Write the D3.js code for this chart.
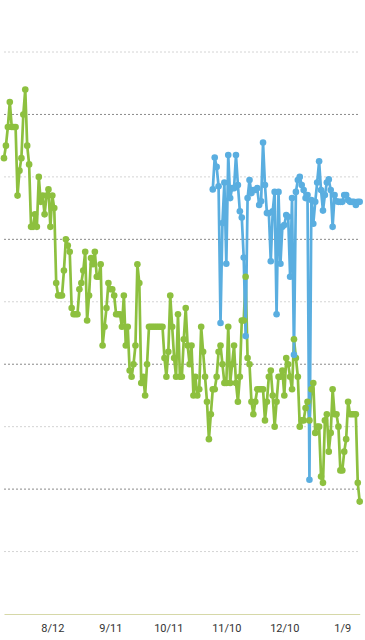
<!DOCTYPE html>
<html><head><meta charset="utf-8">
<script src="https://cdn.jsdelivr.net/npm/d3@7"></script>
<style>html,body{margin:0;padding:0;background:#fff;}svg{display:block}</style>
</head><body><svg id="c" width="365" height="640"></svg>
<script>
// ---- data ----
const greenStart = "2015-07-18";
const greenValues = [
  7.3,7.5,7.8,8.2,7.8,7.8,7.8,6.7,7.1,7.3,
  8.0,8.4,7.5,7.2,6.2,6.2,6.4,6.2,7.0,6.6,
  6.7,6.4,6.7,6.8,6.2,6.7,6.5,5.3,5.1,5.1,
  5.1,5.5,6.0,5.9,5.8,4.9,4.8,4.8,4.8,5.2,
  5.3,5.5,5.8,4.7,5.1,5.7,5.6,5.8,5.4,5.4,
  5.6,4.3,4.6,4.9,5.3,5.2,5.2,5.1,4.8,4.8,
  4.8,4.6,5.1,4.3,4.6,3.9,3.8,4.0,4.3,5.6,
  5.3,3.7,3.8,3.5,4.0,4.6,4.6,4.6,4.6,4.6,
  4.6,4.6,4.6,4.1,3.8,4.2,5.1,4.6,4.1,3.8,
  4.8,3.8,3.8,4.4,4.9,4.3,4.0,4.3,3.5,3.8,
  3.5,3.6,4.6,4.2,3.8,3.4,2.8,3.2,3.6,3.6,
  3.8,4.2,4.3,4.0,3.7,3.7,4.6,3.7,4.0,4.3,
  3.7,3.4,3.8,4.7,4.7,5.4,4.1,4.0,3.4,3.2,
  3.4,3.6,3.6,3.6,3.6,3.1,3.4,3.8,3.9,3.5,
  3.0,3.4,3.8,3.8,3.9,3.5,4.1,4.0,3.8,3.6,
  4.4,4.1,3.8,3.0,3.1,3.1,3.3,3.4,3.1,3.6,
  3.7,2.9,3.0,3.0,2.2,2.1,3.1,3.2,2.6,2.9,
  3.6,3.2,3.2,3.0,2.3,2.3,2.6,2.8,3.4,3.2,
  3.2,3.2,3.2,2.1,1.8
];
const blueStart = "2015-11-03";
const blueValues = [
  6.80,7.31,7.16,6.85,4.66,6.26,6.91,5.61,7.35,6.66,
  6.82,6.82,7.35,6.87,6.45,6.35,5.71,4.45,6.66,6.95,
  6.74,6.79,6.79,6.82,6.55,6.61,7.55,6.87,6.42,6.42,
  5.65,6.45,6.76,4.80,6.76,5.61,6.20,6.23,6.39,6.36,
  5.40,6.66,4.15,6.76,6.95,7.00,6.87,6.79,6.66,6.71,
  2.15,6.63,6.25,6.60,6.91,7.25,6.79,6.46,6.71,6.91,
  6.96,6.79,6.20,6.71,6.61,6.60,6.60,6.60,6.71,6.71,
  6.63,6.60,6.60,6.60,6.55,6.60,6.60
];
const tickDates = ["2015-08-12","2015-09-11","2015-10-11","2015-11-10","2015-12-10","2016-01-09"];
const xDomain = ["2015-07-18","2016-01-18"];
const gridValues = [1,2,3,4,5,6,7,8,9];
const yDomain = [0, 9];

// ---- chart ----
const parse = d3.timeParse("%Y-%m-%d");
const svg = d3.select("#c");
const x = d3.scaleTime().domain(xDomain.map(parse)).range([4, 359.7]);
const y = d3.scaleLinear().domain(yDomain).range([614, 52]);

function series(start, values) {
  const s = parse(start);
  return values.map((v, i) => ({date: d3.timeDay.offset(s, i), value: v}));
}
const green = series(greenStart, greenValues);
const blue = series(blueStart, blueValues);

// grid
svg.append("g").selectAll("line").data(gridValues).join("line")
  .attr("x1", 4).attr("x2", 358)
  .attr("y1", d => y(d)).attr("y2", d => y(d))
  .attr("stroke", d => d % 2 === 0 ? "#8a8a8a" : "#d4d4d4")
  .attr("stroke-width", 1)
  .attr("stroke-dasharray", "2,2");

// axis
const axis = d3.axisBottom(x)
  .tickValues(tickDates.map(parse))
  .tickFormat(d3.timeFormat("%-m/%-d"))
  .tickSize(0).tickSizeOuter(0).tickPadding(10);
const ag = svg.append("g").attr("transform", "translate(0,614)").call(axis);
ag.select(".domain").attr("stroke", "#d6d8a8").attr("stroke-width", 1.2);
ag.selectAll("text").attr("fill", "#333").style("font-family", "Roboto, 'Noto Sans', sans-serif").style("font-size", "11px");

const line = d3.line().x(d => x(d.date)).y(d => y(d.value));
const GREEN = "#8dc03f", BLUE = "#5aaee0";

svg.append("path").datum(green).attr("d", line)
  .attr("fill", "none").attr("stroke", GREEN).attr("stroke-width", 2.7).attr("stroke-linejoin", "round");
svg.append("path").datum(blue).attr("d", line)
  .attr("fill", "none").attr("stroke", BLUE).attr("stroke-width", 2.7).attr("stroke-linejoin", "round");

svg.append("g").selectAll("circle").data(green).join("circle")
  .attr("cx", d => x(d.date)).attr("cy", d => y(d.value)).attr("r", 3.3).attr("fill", GREEN);
svg.append("g").selectAll("circle").data(blue).join("circle")
  .attr("cx", d => x(d.date)).attr("cy", d => y(d.value)).attr("r", 3.3).attr("fill", BLUE);
</script>
</body></html>
